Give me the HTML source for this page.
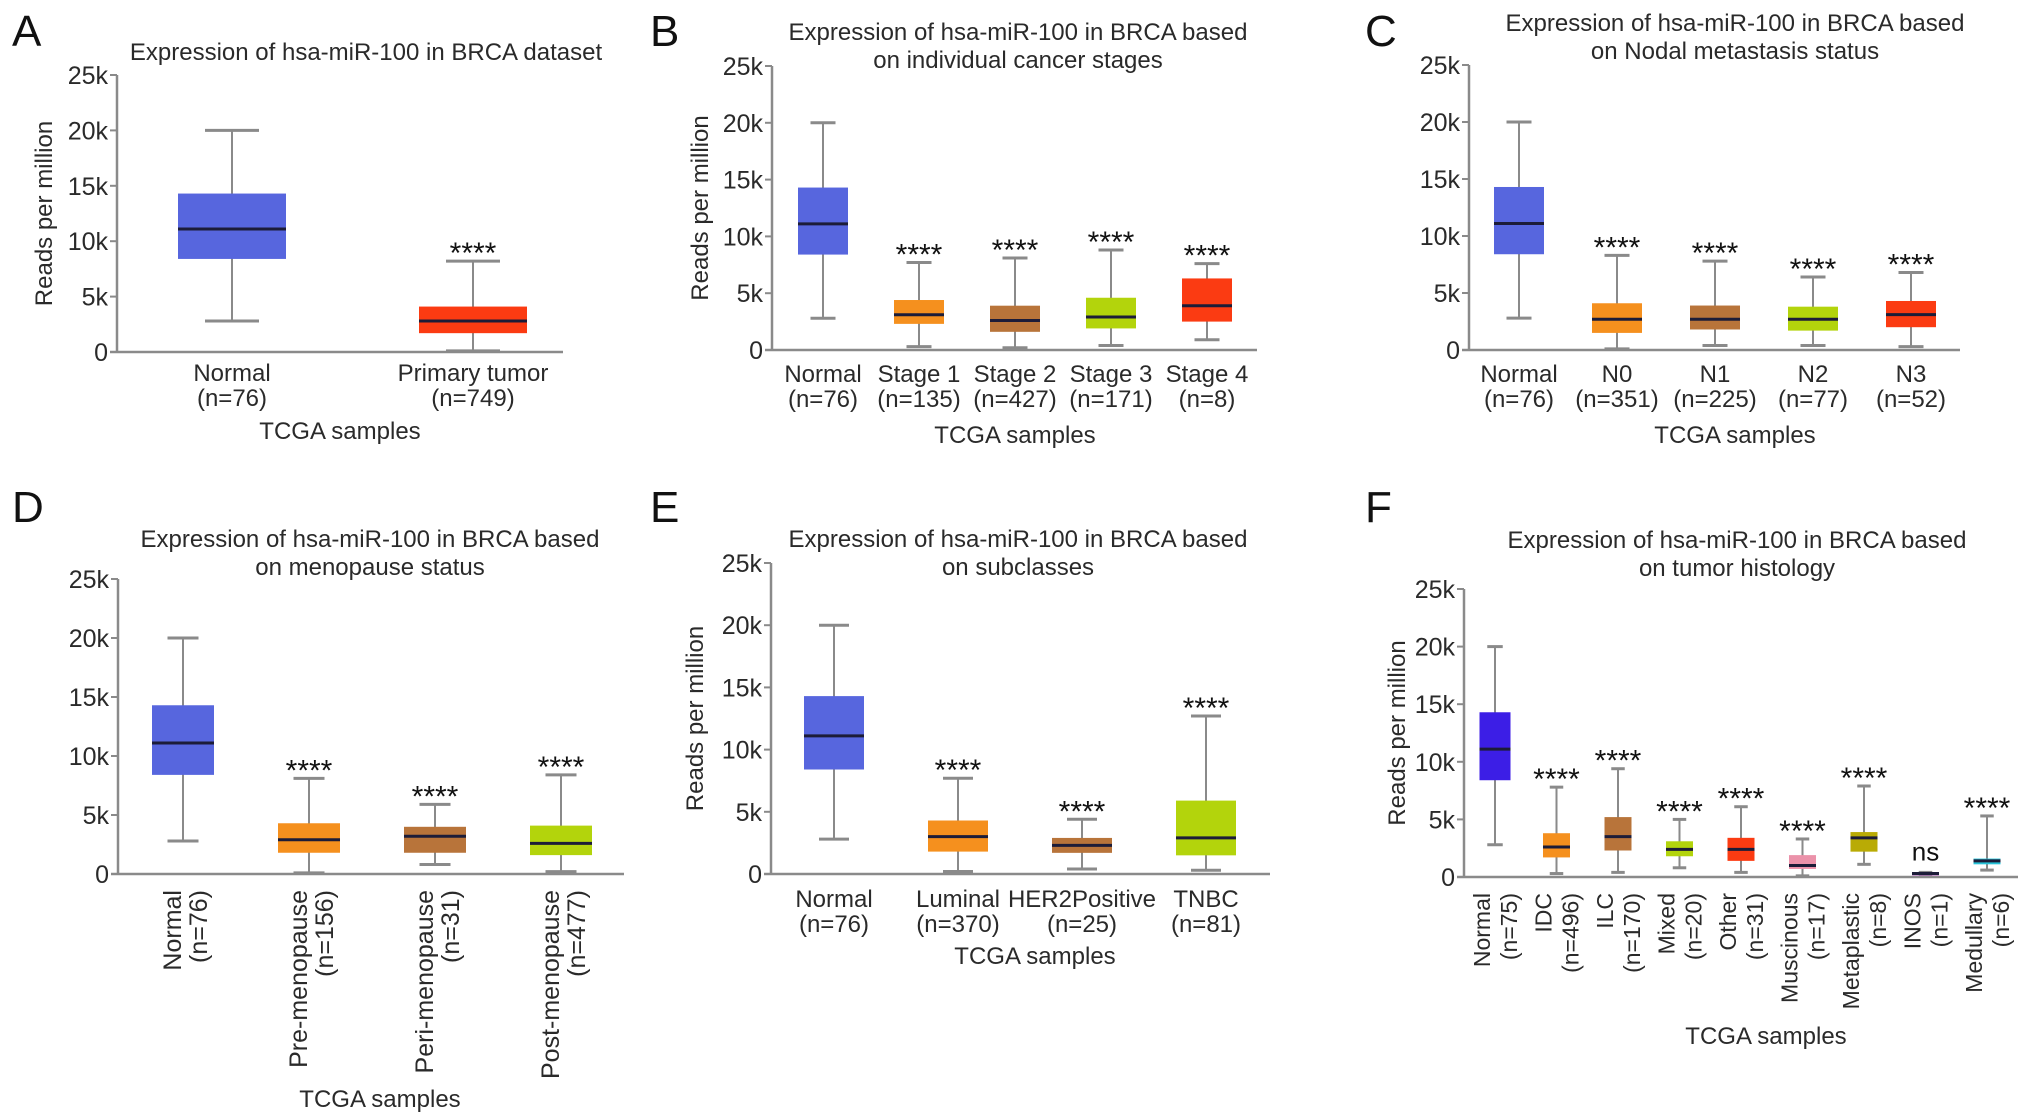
<!DOCTYPE html>
<html><head><meta charset="utf-8"><style>
html,body{margin:0;padding:0;background:#fff;}
svg{display:block;font-family:"Liberation Sans",Arial,sans-serif;}
</style></head><body>
<svg id="fig" width="2032" height="1119" viewBox="0 0 2032 1119"></svg>
<script>
const yTicks=[0,5,10,15,20,25];
const yTickLabels=["0","5k","10k","15k","20k","25k"];
// Panel A
const aCats=["Normal","Primary tumor"], aN=["(n=76)","(n=749)"];
const aLow=[2.8,0.1], aQ1=[8.4,1.7], aMed=[11.1,2.8], aQ3=[14.3,4.1], aHigh=[20,8.2];
const aSig=["","****"];
// Panel B
const bCats=["Normal","Stage 1","Stage 2","Stage 3","Stage 4"], bN=["(n=76)","(n=135)","(n=427)","(n=171)","(n=8)"];
const bLow=[2.8,0.3,0.2,0.4,0.9], bQ1=[8.4,2.3,1.6,1.9,2.5], bMed=[11.1,3.1,2.6,2.9,3.9], bQ3=[14.3,4.4,3.9,4.6,6.3], bHigh=[20,7.7,8.1,8.8,7.6];
const bSig=["","****","****","****","****"];
// Panel C
const cCats=["Normal","N0","N1","N2","N3"], cN=["(n=76)","(n=351)","(n=225)","(n=77)","(n=52)"];
const cLow=[2.8,0.1,0.4,0.4,0.3], cQ1=[8.4,1.5,1.8,1.7,2.0], cMed=[11.1,2.7,2.7,2.7,3.1], cQ3=[14.3,4.1,3.9,3.8,4.3], cHigh=[20,8.3,7.8,6.4,6.8];
const cSig=["","****","****","****","****"];
// Panel D
const dCats=["Normal","Pre-menopause","Peri-menopause","Post-menopause"], dN=["(n=76)","(n=156)","(n=31)","(n=477)"];
const dLow=[2.8,0.1,0.8,0.2], dQ1=[8.4,1.8,1.8,1.6], dMed=[11.1,2.9,3.2,2.6], dQ3=[14.3,4.3,4.0,4.1], dHigh=[20,8.1,5.9,8.4];
const dSig=["","****","****","****"];
// Panel E
const eCats=["Normal","Luminal","HER2Positive","TNBC"], eN=["(n=76)","(n=370)","(n=25)","(n=81)"];
const eLow=[2.8,0.2,0.4,0.3], eQ1=[8.4,1.8,1.7,1.5], eMed=[11.1,3.0,2.3,2.9], eQ3=[14.3,4.3,2.9,5.9], eHigh=[20,7.7,4.4,12.7];
const eSig=["","****","****","****"];
// Panel F
const fCats=["Normal","IDC","ILC","Mixed","Other","Muscinous","Metaplastic","INOS","Medullary"];
const fN=["(n=75)","(n=496)","(n=170)","(n=20)","(n=31)","(n=17)","(n=8)","(n=1)","(n=6)"];
const fLow=[2.8,0.3,0.4,0.8,0.4,0.1,1.1,0.2,0.6], fQ1=[8.4,1.7,2.3,1.8,1.4,0.7,2.2,0.2,1.1], fMed=[11.1,2.6,3.5,2.4,2.4,1.0,3.4,0.3,1.4], fQ3=[14.3,3.8,5.2,3.1,3.4,1.9,3.9,0.4,1.6], fHigh=[20,7.8,9.4,5.0,6.1,3.3,7.9,0.4,5.3];
const fSig=["","****","****","****","****","****","****","ns","****"];

const NS="http://www.w3.org/2000/svg";
const svg=document.getElementById('fig');
function mk(tag,attrs,parent,txt){const e=document.createElementNS(NS,tag);for(const k in attrs)e.setAttribute(k,attrs[k]);if(txt!==undefined)e.textContent=txt;(parent||svg).appendChild(e);return e;}
const BLUE="#5766de",ORANGE="#f5901e",BROWN="#b8743a",GREEN="#b3d40c",RED="#fb3b12";
const TXT="#2a2a2a";

function panel(cfg,cats,ns,low,q1,med,q3,high,sig,colors){
  const g=mk('g',{});
  
  
  const ys=v=>cfg.y0+(cfg.y25-cfg.y0)*v/25;
  const xs=i=>cfg.c0+i*cfg.step;
  const L=mk('text',{x:cfg.lx,y:cfg.ly,'font-size':44,fill:'#111'},g,cfg.id);
  
  cfg.title.forEach((t,k)=>{const e=mk('text',{x:cfg.tx,y:cfg.ty+k*28,'font-size':24,'text-anchor':'middle',fill:TXT},g,t);
    });
  const ax=mk('line',{x1:cfg.ax,y1:ys(25),x2:cfg.ax,y2:ys(0),stroke:'#8a8a8a','stroke-width':2.5},g);
  
  const bx=mk('line',{x1:cfg.ax-7,y1:ys(0),x2:cfg.xe,y2:ys(0),stroke:'#8a8a8a','stroke-width':2.5},g);
  
  yTicks.forEach((v,i)=>{
    mk('line',{x1:cfg.ax-7,y1:ys(v),x2:cfg.ax,y2:ys(v),stroke:'#8a8a8a','stroke-width':2},g);
    const t=mk('text',{x:cfg.ax-9,y:ys(v)+9,'font-size':25,'text-anchor':'end',fill:TXT},g,yTickLabels[i]);
    
  });
  if(cfg.ytx){const yt=mk('text',{x:0,y:0,'font-size':24,'text-anchor':'middle',fill:TXT,transform:`translate(${cfg.ytx},${(ys(0)+ys(25))/2}) rotate(-90)`},g,'Reads per million');
    }
  cats.forEach((c,i)=>{
    const x=xs(i),w=(i==0&&cfg.w0)?cfg.w0:cfg.w,cap=w*0.5;
    const bg=mk('g',{},g);
    
    
    mk('line',{x1:x,y1:ys(high[i]),x2:x,y2:ys(low[i]),stroke:'#8a8a8a','stroke-width':2},bg);
    mk('line',{x1:x-cap/2,y1:ys(high[i]),x2:x+cap/2,y2:ys(high[i]),stroke:'#8a8a8a','stroke-width':3},bg);
    mk('line',{x1:x-cap/2,y1:ys(low[i]),x2:x+cap/2,y2:ys(low[i]),stroke:'#8a8a8a','stroke-width':3},bg);
    mk('rect',{x:x-w/2,y:ys(q3[i]),width:w,height:Math.max(3,ys(q1[i])-ys(q3[i])),fill:colors[i]},bg);
    mk('line',{x1:x-w/2,y1:ys(med[i]),x2:x+w/2,y2:ys(med[i]),stroke:'#1c1c38','stroke-width':3},bg);
    if(sig[i]){const isNs=sig[i]=='ns';const s=mk('text',{x:x,y:ys(high[i])-(isNs?12:-2),'font-size':isNs?26:30,'text-anchor':'middle',fill:'#111'},g,sig[i]);
      }
    if(cfg.rot){
      const t1=mk('text',{x:0,y:0,'font-size':cfg.fs,'text-anchor':'end',fill:TXT,transform:`translate(${x+cfg.r1},${cfg.ry}) rotate(-90)`},g,c);
      
      const t2=mk('text',{x:0,y:0,'font-size':cfg.fs,'text-anchor':'end',fill:TXT,transform:`translate(${x+cfg.r2},${cfg.ry}) rotate(-90)`},g,ns[i]);
      
    } else {
      const t1=mk('text',{x:x,y:cfg.l1,'font-size':24,'text-anchor':'middle',fill:TXT},g,c);
      
      const t2=mk('text',{x:x,y:cfg.l1+25,'font-size':24,'text-anchor':'middle',fill:TXT},g,ns[i]);
      
    }
  });
  const xt=mk('text',{x:cfg.xtx,y:cfg.xty,'font-size':24,'text-anchor':'middle',fill:TXT},g,'TCGA samples');
  
}

panel({id:'A',lx:12,ly:46,title:['Expression of hsa-miR-100 in BRCA dataset'],tx:366,ty:60,ax:117,xe:563,y0:352,y25:75,c0:232,step:241,w:108,ytx:52,l1:381,xtx:340,xty:439},
  aCats,aN,aLow,aQ1,aMed,aQ3,aHigh,aSig,[BLUE,RED]);
panel({id:'B',lx:650,ly:46,title:['Expression of hsa-miR-100 in BRCA based','on individual cancer stages'],tx:1018,ty:40,ax:772,xe:1257,y0:350,y25:66,c0:823,step:96,w:50,ytx:708,l1:382,xtx:1015,xty:443},
  bCats,bN,bLow,bQ1,bMed,bQ3,bHigh,bSig,[BLUE,ORANGE,BROWN,GREEN,RED]);
panel({id:'C',lx:1365,ly:46,title:['Expression of hsa-miR-100 in BRCA based','on Nodal metastasis status'],tx:1735,ty:31,ax:1469,xe:1960,y0:350,y25:65,c0:1519,step:98,w:50,l1:382,xtx:1735,xty:443},
  cCats,cN,cLow,cQ1,cMed,cQ3,cHigh,cSig,[BLUE,ORANGE,BROWN,GREEN,RED]);
panel({id:'D',lx:12,ly:522,title:['Expression of hsa-miR-100 in BRCA based','on menopause status'],tx:370,ty:547,ax:118,xe:624,y0:874,y25:579,c0:183,step:126,w:62,rot:true,fs:25,r1:-2,r2:24,ry:890,xtx:380,xty:1107},
  dCats,dN,dLow,dQ1,dMed,dQ3,dHigh,dSig,[BLUE,ORANGE,BROWN,GREEN]);
panel({id:'E',lx:650,ly:522,title:['Expression of hsa-miR-100 in BRCA based','on subclasses'],tx:1018,ty:547,ax:771,xe:1270,y0:874,y25:563,c0:834,step:124,w:60,ytx:703,l1:907,xtx:1035,xty:964},
  eCats,eN,eLow,eQ1,eMed,eQ3,eHigh,eSig,[BLUE,ORANGE,BROWN,GREEN]);
panel({id:'F',lx:1365,ly:522,title:['Expression of hsa-miR-100 in BRCA based','on tumor histology'],tx:1737,ty:548,ax:1464,xe:2018,y0:877,y25:589,c0:1495,step:61.5,w:27,w0:31,ytx:1405,rot:true,fs:23,r1:-5,r2:22,ry:893,xtx:1766,xty:1044},
  fCats,fN,fLow,fQ1,fMed,fQ3,fHigh,fSig,["#3c1ee6",ORANGE,BROWN,GREEN,RED,"#eb92aa","#b9ab05","#b84bc6","#27c3d8"]);
</script>
</body></html>
